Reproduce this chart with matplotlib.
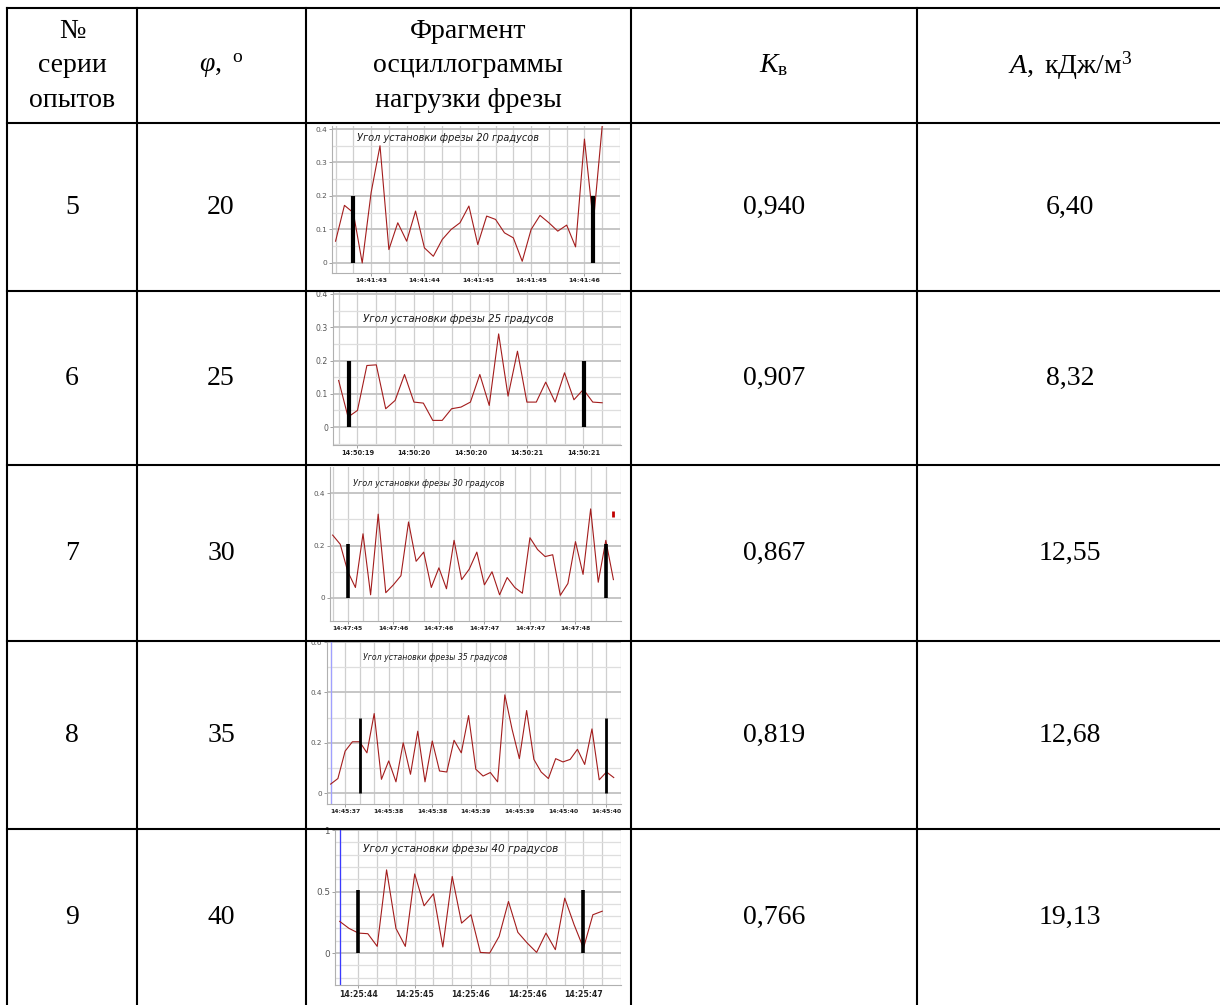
import matplotlib
matplotlib.use("Agg")
import matplotlib.pyplot as plt
import numpy as np
from matplotlib.transforms import Bbox, TransformedBbox

plt.rcParams["mathtext.fontset"] = "custom"
plt.rcParams["mathtext.rm"] = "Liberation Serif"
plt.rcParams["mathtext.it"] = "Liberation Serif:italic"

W, H = 1220, 1005

# ---------------- table data ----------------
series_no = [5, 6, 7, 8, 9]
phi_deg = [20, 25, 30, 35, 40]
k_v = [0.940, 0.907, 0.867, 0.819, 0.766]
a_work = [6.40, 8.32, 12.55, 12.68, 19.13]
headers = ["№\nсерии\nопытов",
           r"$\mathit{φ}\mathrm{,\ }^{\mathrm{o}}$",
           "Фрагмент\nосциллограммы\nнагрузки фрезы",
           r"$K_{\mathrm{в}}$",
           r"$\mathit{A}\mathrm{,\ кДж/м}^{3}$"]

# ---------------- oscillogram data ----------------
load_20 = [0.065, 0.172, 0.15, 0.0, 0.21, 0.35, 0.04, 0.12, 0.065, 0.155, 0.045,
           0.02, 0.07, 0.1, 0.12, 0.17, 0.055, 0.14, 0.13, 0.09, 0.075, 0.005,
           0.1, 0.142, 0.12, 0.095, 0.113, 0.048, 0.37, 0.12, 0.41]
load_25 = [0.14, 0.03, 0.05, 0.185, 0.187, 0.055, 0.08, 0.158, 0.075, 0.072, 0.02,
           0.02, 0.055, 0.06, 0.075, 0.158, 0.065, 0.28, 0.093, 0.228, 0.075,
           0.075, 0.135, 0.075, 0.163, 0.082, 0.113, 0.075, 0.073]
load_30 = [0.24, 0.205, 0.1, 0.04, 0.245, 0.012, 0.32, 0.02, 0.05, 0.085, 0.29,
           0.14, 0.175, 0.04, 0.115, 0.035, 0.22, 0.07, 0.11, 0.175, 0.05, 0.1,
           0.012, 0.078, 0.04, 0.018, 0.23, 0.185, 0.158, 0.165, 0.01, 0.055,
           0.215, 0.09, 0.34, 0.06, 0.22, 0.07]
load_35 = [0.036, 0.058, 0.167, 0.204, 0.204, 0.16, 0.316, 0.055, 0.128, 0.045,
           0.2, 0.075, 0.246, 0.045, 0.207, 0.088, 0.084, 0.21, 0.16, 0.308,
           0.095, 0.068, 0.082, 0.045, 0.39, 0.253, 0.137, 0.328, 0.134, 0.084,
           0.058, 0.137, 0.124, 0.134, 0.174, 0.114, 0.255, 0.053, 0.084, 0.062]
load_40 = [0.257, 0.2, 0.162, 0.157, 0.054, 0.676, 0.2, 0.054, 0.643, 0.384,
           0.481, 0.049, 0.622, 0.243, 0.311, 0.005, 0.0, 0.135, 0.419, 0.168,
           0.081, 0.005, 0.162, 0.027, 0.446, 0.23, 0.04, 0.311, 0.34]

times_20 = ["14:41:43", "14:41:44", "14:41:45", "14:41:45", "14:41:46"]
times_25 = ["14:50:19", "14:50:20", "14:50:20", "14:50:21", "14:50:21"]
times_30 = ["14:47:45", "14:47:46", "14:47:46", "14:47:47", "14:47:47", "14:47:48"]
times_35 = ["14:45:37", "14:45:38", "14:45:38", "14:45:39", "14:45:39", "14:45:40", "14:45:40"]
times_40 = ["14:25:44", "14:25:45", "14:25:46", "14:25:46", "14:25:47"]

time_pos_20 = [4, 10, 16, 22, 28]
time_pos_25 = [2, 8, 14, 20, 26]
time_pos_30 = [2, 8, 14, 20, 26, 32]
time_pos_35 = [2, 8, 14, 20, 26, 32, 38]
time_pos_40 = [2, 8, 14, 20, 26]

cursor_20 = [2, 29]
cursor_25 = [1.1, 26.1]
cursor_30 = [2.05, 36.05]
cursor_35 = [4, 38]
cursor_40 = [2, 26]
cursor_h = [0.2, 0.2, 0.205, 0.3, 0.51]

titles = ["Угол установки фрезы %d градусов" % p for p in phi_deg]

loads = [load_20, load_25, load_30, load_35, load_40]
times = [times_20, times_25, times_30, times_35, times_40]
time_pos = [time_pos_20, time_pos_25, time_pos_30, time_pos_35, time_pos_40]
cursors = [cursor_20, cursor_25, cursor_30, cursor_35, cursor_40]

# ---------------- layout ----------------
col_x = [7, 137, 306, 631, 917]
row_y = [8, 123, 291, 465, 641, 829]
col_c = [72, 221, 468, 774, 1070]

chart_box = [(332, 126, 620, 273), (333, 292, 621, 445), (330, 467, 621, 621),
             (327, 642, 621, 804), (335, 830, 621, 985)]
chart_xlim = [(-0.4, 29.5), (-0.6, 27.9), (-0.35, 37.1), (-0.5, 39.1), (-0.5, 27.8)]
chart_ylim = [(-0.03, 0.409), (-0.054, 0.406), (-0.088, 0.5), (-0.043, 0.592), (-0.26, 0.998)]
chart_yt = [[0, 0.1, 0.2, 0.3, 0.4], [0, 0.1, 0.2, 0.3, 0.4], [0, 0.2, 0.4],
            [0, 0.2, 0.4, 0.6], [0, 0.5, 1.0]]
chart_ytl = [["0", "0.1", "0.2", "0.3", "0.4"], ["0", "0.1", "0.2", "0.3", "0.4"],
             ["0", "0.2", "0.4"], ["0", "0.2", "0.4", "0.6"], ["0", "0.5", "1"]]
chart_ymin_step = [0.05, 0.05, 0.1, 0.1, 0.1]
title_pos = [(357, 138, 7.0), (363, 319, 7.4), (353, 483, 5.9), (363, 657, 5.6), (363, 849, 7.6)]
bar_lw = [3.0, 3.0, 2.6, 2.0, 2.6]
blue_line = [None, None, None, "#a0a0ff", "#3a3aff"]
tick_fs = [4.6, 4.8, 4.4, 4.4, 5.6]

fig = plt.figure(figsize=(W / 100, H / 100), dpi=100)


def prect(x0, y0, x1, y1):
    return [x0 / W, 1 - y1 / H, (x1 - x0) / W, (y1 - y0) / H]


for i in range(5):
    ax = fig.add_axes(prect(*chart_box[i]), zorder=2)
    vals = loads[i]
    x = np.arange(len(vals))
    ax.set_xlim(*chart_xlim[i])
    ax.set_ylim(*chart_ylim[i])
    ax.set_xticks(np.arange(0, len(vals) + 2, 2), minor=True)
    ax.set_xticks(time_pos[i])
    ax.set_xticklabels(times[i])
    ax.set_yticks(chart_yt[i])
    ax.set_yticklabels(chart_ytl[i])
    st = chart_ymin_step[i]
    ax.set_yticks(np.arange(np.ceil(chart_ylim[i][0] / st) * st, chart_ylim[i][1], st), minor=True)
    ax.grid(which="both", axis="x", color="#cfcfcf", lw=0.9)
    ax.grid(which="major", axis="y", color="#c2c2c2", lw=1.3)
    ax.grid(which="minor", axis="y", color="#dedede", lw=0.9)
    ax.set_axisbelow(True)
    if blue_line[i]:
        ax.axvline(0, color=blue_line[i], lw=0.9, zorder=2)
    ax.plot(x, vals, color="#a31c1c", lw=0.8, zorder=3)
    ax.vlines(cursors[i], 0, cursor_h[i], color="black", lw=bar_lw[i], zorder=4)
    if i == 2:
        ax.plot([37.0], [0.32], marker="|", color="#c00000", ms=5, mew=2, clip_on=False, zorder=5)
    for s in ["top", "right"]:
        ax.spines[s].set_visible(False)
    for s in ["left", "bottom"]:
        ax.spines[s].set_color("#b0b0b0")
        ax.spines[s].set_linewidth(0.8)
    ax.tick_params(which="major", length=2, width=0.6, color="#909090", pad=1.5)
    ax.tick_params(which="minor", length=0)
    ax.tick_params(axis="y", labelsize=tick_fs[i] + 0.8, labelcolor="#555555")
    ax.tick_params(axis="x", labelsize=tick_fs[i], labelcolor="#222222")
    clipbb = TransformedBbox(Bbox.from_extents(col_x[2] / W, 1 - row_y[i + 1] / H - 0.2,
                                               col_x[3] / W - 0.008, 1 - row_y[i] / H),
                             fig.transFigure)
    for lab in ax.get_xticklabels():
        lab.set_fontweight("bold")
        lab.set_clip_box(clipbb)
        lab.set_clip_on(True)
    tx, ty, tfs = title_pos[i]
    fig.text(tx / W, 1 - ty / H, titles[i], fontsize=tfs, style="italic",
             color="#1a1a1a", ha="left", va="center", zorder=6)

# ---------------- table overlay ----------------
T = fig.add_axes([0, 0, 1, 1], zorder=10)
T.set_xlim(0, W)
T.set_ylim(H, 0)
T.axis("off")
T.patch.set_visible(False)

lw = 1.5
for xv in col_x:
    T.plot([xv, xv], [row_y[0], H + 5], color="black", lw=lw, solid_capstyle="projecting")
for yv in row_y:
    T.plot([col_x[0], W + 5], [yv, yv], color="black", lw=lw, solid_capstyle="projecting")

fs = 20
serif = "Liberation Serif"
hy = (row_y[0] + row_y[1]) / 2
for j, htxt in enumerate(headers):
    T.text(col_c[j], hy, htxt, ha="center", va="center", fontsize=fs, family=serif,
           linespacing=1.5)

row_c = [(row_y[k] + row_y[k + 1]) / 2 for k in range(1, 5)] + [(row_y[5] + H) / 2]
for k in range(5):
    cells = [str(series_no[k]), str(phi_deg[k]), None,
             ("%.3f" % k_v[k]).replace(".", ","), ("%.2f" % a_work[k]).replace(".", ",")]
    for j, c in enumerate(cells):
        if c is None:
            continue
        T.text(col_c[j], row_c[k], c, ha="center", va="center", fontsize=fs, family=serif)

fig.savefig("out.png", dpi=100)
